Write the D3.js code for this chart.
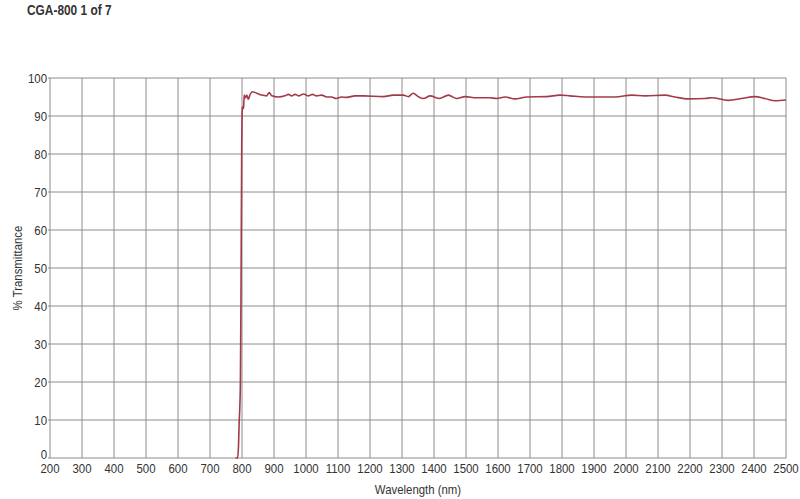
<!DOCTYPE html>
<html>
<head>
<meta charset="utf-8">
<script src="https://cdn.jsdelivr.net/npm/d3@7"></script>
<style>
  body { margin: 0; background: #fff; }
  svg text { font-family: 'Liberation Sans', Arial, sans-serif; fill: #333; }
</style>
</head>
<body>
<svg id="chart" width="800" height="499"></svg>
<script>
// Transmission curve
const wavelength = [
    780, 786, 789, 791, 793, 795, 797, 799, 801, 803, 805, 807, 811, 815, 820, 825, 832,
    846, 861, 877, 885, 893, 913, 934, 945, 955, 966, 978, 992, 1007, 1020, 1033,
    1049, 1065, 1080, 1094, 1111, 1127, 1153, 1179, 1242, 1273, 1304, 1320, 1335,
    1351, 1367, 1388, 1417, 1445, 1471, 1497, 1533, 1575, 1596, 1622, 1653, 1690,
    1752, 1794, 1825, 1872, 1966, 2018, 2059, 2122, 2153, 2195, 2247, 2268, 2320,
    2361, 2403, 2434, 2466, 2500
];
const transmittance = [
    0, 0, 3, 9, 13, 20, 45, 80, 92, 92.5, 92, 95.5, 94.8, 95.5, 94.4, 95.6, 96.4,
    96.0, 95.5, 95.3, 96.2, 95.3, 95.0, 95.3, 95.7, 95.3, 95.7, 95.3, 95.8, 95.3, 95.7, 95.3,
    95.5, 95.0, 95.0, 94.6, 95.0, 94.9, 95.3, 95.3, 95.1, 95.5, 95.5, 95.1, 96.0,
    95.1, 94.6, 95.3, 94.6, 95.5, 94.6, 95.1, 94.8, 94.8, 94.6, 95.0, 94.5, 95.0,
    95.1, 95.5, 95.3, 95.0, 95.0, 95.5, 95.3, 95.5, 95.0, 94.5, 94.6, 94.8, 94.1,
    94.6, 95.1, 94.6, 94.0, 94.2
];

const xTicks = d3.range(200, 2501, 100);
const yTicks = d3.range(0, 101, 10);

const title = 'CGA-800 1 of 7';
const xTitle = 'Wavelength (nm)';
const yTitle = '% Transmittance';

const margin = { top: 78, right: 14, bottom: 41, left: 50 };
const width = 800, height = 499;
const narrow = 0.88; // squeeze text to look like a condensed face

const svg = d3.select('#chart');

const x = d3.scaleLinear().domain([200, 2500]).range([margin.left, width - margin.right]);
const y = d3.scaleLinear().domain([0, 100]).range([height - margin.bottom, margin.top]);

// Grid
const grid = svg.append('g').attr('stroke', '#8c8c8c').attr('stroke-width', 1);
grid.selectAll('line.v')
    .data(xTicks)
    .enter()
    .append('line')
    .attr('class', 'v')
    .attr('x1', d => x(d)).attr('x2', d => x(d))
    .attr('y1', y(100)).attr('y2', y(0));
grid.selectAll('line.h')
    .data(yTicks)
    .enter()
    .append('line')
    .attr('class', 'h')
    .attr('x1', x(200) - 2).attr('x2', x(2500))
    .attr('y1', d => y(d)).attr('y2', d => y(d));

// Tick labels
svg.append('g')
    .selectAll('text')
    .data(yTicks)
    .enter()
    .append('text')
    .attr('transform', d => `translate(${x(200) - 3},${y(d) + (d === 0 ? 1 : 5)}) scale(${narrow},1)`)
    .attr('text-anchor', 'end')
    .style('font-size', '13px')
    .text(d => d);

svg.append('g')
    .selectAll('text')
    .data(xTicks)
    .enter()
    .append('text')
    .attr('transform', d => `translate(${x(d)},${y(0) + 15}) scale(${narrow},1)`)
    .attr('text-anchor', 'middle')
    .style('font-size', '13px')
    .text(d => d);

// Curve
const line = d3.line()
    .x((d, i) => x(wavelength[i]))
    .y(d => y(d))
    .curve(d3.curveMonotoneX);

svg.append('path')
    .datum(transmittance)
    .attr('d', line)
    .attr('fill', 'none')
    .attr('stroke', '#a23a4c')
    .attr('stroke-width', 1.6);

// Titles
svg.append('text')
    .attr('transform', `translate(27,15) scale(0.85,1)`)
    .style('font-size', '14px')
    .style('font-weight', 'bold')
    .text(title);

svg.append('text')
    .attr('transform', `translate(${(x(200) + x(2500)) / 2},494) scale(0.95,1)`)
    .attr('text-anchor', 'middle')
    .style('font-size', '12px')
    .text(xTitle);

svg.append('text')
    .attr('transform', `translate(22,${(y(0) + y(100)) / 2}) rotate(-90) scale(0.95,1)`)
    .attr('text-anchor', 'middle')
    .style('font-size', '12px')
    .text(yTitle);
</script>
</body>
</html>
